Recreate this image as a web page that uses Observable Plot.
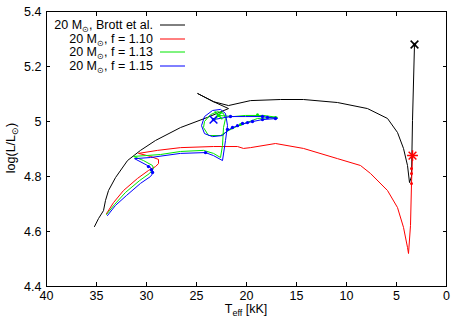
<!DOCTYPE html>
<html><head><meta charset="utf-8">
<script src="https://cdn.jsdelivr.net/npm/d3@7"></script>
<script src="https://cdn.jsdelivr.net/npm/@observablehq/plot@0.6"></script>
<style>body{margin:0;background:#fff} svg{display:block}</style>
</head><body><div id="chart"></div>
<script>
// ---- data (Teff in kK, log L/Lsun) ----
const xTicks = [40, 35, 30, 25, 20, 15, 10, 5, 0];
const yTicks = [4.4, 4.6, 4.8, 5.0, 5.2, 5.4];
const yTickLabels = ["4.4", "4.6", "4.8", "5", "5.2", "5.4"];

const legendMain = ["20 M", "20 M", "20 M", "20 M"];
const legendSuffix = [", Brott et al.", ", f = 1.10", ", f = 1.13", ", f = 1.15"];
const seriesColors = ["#000000", "#ff0000", "#00e600", "#0000ff"];

const brottT = [35.2,34.8,34.3,34.1,33.8,33.1,31.9,30.6,29.1,26.6,23.9,21.8,23.3,24.9,23.3,21.8,19.6,16.6,14.3,10.9,7.9,5.9,4.9,4.3,3.9,3.7,3.5,3.4,3.2];
const brottL = [4.618,4.647,4.676,4.713,4.749,4.796,4.858,4.895,4.931,4.978,5.015,5.047,5.072,5.102,5.072,5.058,5.076,5.080,5.080,5.069,5.047,5.011,4.960,4.902,4.840,4.778,4.800,5.004,5.280];

const f110T = [34.0,33.3,32.3,30.9,29.8,29.1,28.8,28.8,29.6,30.8,28.9,26.6,23.3,20.9,20.3,19.6,17.1,14.3,10.9,8.6,7.6,5.9,4.9,4.3,3.9,3.8,3.6,3.5,3.4];
const f110L = [4.665,4.705,4.749,4.793,4.822,4.836,4.847,4.862,4.873,4.884,4.895,4.905,4.909,4.909,4.902,4.905,4.920,4.902,4.865,4.840,4.811,4.749,4.687,4.615,4.542,4.520,4.622,4.775,4.876];

const f113T = [34.0,33.2,32.1,30.7,29.7,29.3,29.4,30.3,31.3,30.1,28.6,26.6,24.3,23.3,22.6,22.4,22.3,22.1,22.3,22.9,23.6,24.2,24.3,23.8,22.6,21.8,20.8,18.9,16.9,18.3,20.1,21.3,22.8];
const f113L = [4.662,4.698,4.742,4.785,4.811,4.829,4.840,4.858,4.873,4.876,4.880,4.891,4.895,4.884,4.869,4.913,4.978,5.011,5.029,5.036,5.025,5.000,4.978,4.949,4.949,4.967,4.985,5.011,5.015,5.022,5.022,5.018,5.022];

const f115T = [33.9,33.1,32.0,30.6,29.6,29.3,29.6,29.9,31.2,29.6,26.6,24.1,23.3,22.4,22.1,21.9,22.1,22.6,23.4,24.2,24.5,24.2,23.4,22.4,21.9,21.4,19.9,18.4,16.9,18.4,20.1,21.6,23.3];
const f115L = [4.658,4.695,4.731,4.775,4.800,4.815,4.833,4.840,4.865,4.869,4.884,4.887,4.876,4.858,4.931,4.985,5.029,5.044,5.040,5.018,4.985,4.956,4.945,4.949,4.967,4.978,4.996,5.007,5.011,5.018,5.018,5.018,5.007];

// model points marked along the tracks
const blueDotT = [21.9,21.4,20.9,20.4,19.9,19.4,18.4,17.1,21.6,18.4,17.9,24.1,29.8,29.5,29.4];
const blueDotL = [4.971,4.978,4.985,4.993,4.996,5.000,5.007,5.011,5.018,5.018,5.015,4.887,4.836,4.825,4.815];
const greenDotT = [18.9,20.6,17.1];
const greenDotL = [5.025,4.989,5.015];
const redDotT = [3.5,3.5,3.5];
const redDotL = [4.829,4.811,4.775];

// end points (crosses)
const endT = [3.2, 3.4, 22.8, 23.3];
const endL = [5.280, 4.876, 5.022, 5.007];

// ---- build ----
const zipTL = (T, L) => T.map((t, i) => ({T: t, L: L[i]}));
const tracks = [zipTL(brottT, brottL), zipTL(f110T, f110L), zipTL(f113T, f113L), zipTL(f115T, f115L)];
const ends = endT.map((t, i) => ({T: t, L: endL[i], c: seriesColors[i]}));

const yFmt = d => yTickLabels[yTicks.findIndex(v => Math.abs(v - d) < 1e-9)];

const marks = [];
tracks.forEach((tr, i) => marks.push(Plot.line(tr, {x: "T", y: "L", stroke: seriesColors[i], strokeWidth: 1})));
marks.push(Plot.dot(zipTL(redDotT, redDotL), {x: "T", y: "L", r: 1.5, fill: seriesColors[1]}));
marks.push(Plot.dot(zipTL(greenDotT, greenDotL), {x: "T", y: "L", r: 1.5, fill: seriesColors[2]}));
marks.push(Plot.dot(zipTL(blueDotT, blueDotL), {x: "T", y: "L", r: 1.7, fill: seriesColors[3]}));
marks.push(Plot.dot(ends, {x: "T", y: "L", symbol: "times", r: 3.6, stroke: "c", strokeWidth: 1.5}));
marks.push(Plot.dot(ends.slice(1, 2), {x: "T", y: "L", symbol: "plus", r: 3.6, stroke: "c", strokeWidth: 1.5}));
marks.push(Plot.dot(ends, {x: "T", y: "L", symbol: "square", r: 1.8, fill: "c"}));

marks.push(Plot.axisX(xTicks, {anchor: "bottom", tickSize: 0, tickPadding: 5, fontSize: 12.5}));
marks.push(Plot.axisX(xTicks, {anchor: "bottom", tickSize: -4, text: null}));
marks.push(Plot.axisX(xTicks, {anchor: "top", tickSize: -4, text: null}));
marks.push(Plot.axisY(yTicks, {anchor: "left", tickSize: 0, tickPadding: 5, tickFormat: yFmt, fontSize: 12.5}));
marks.push(Plot.axisY(yTicks, {anchor: "left", tickSize: -4, text: null}));
marks.push(Plot.axisY(yTicks, {anchor: "right", tickSize: -4, text: null}));
marks.push(Plot.frame({stroke: "#000", strokeWidth: 1}));

const svg = Plot.plot({
  width: 463, height: 324,
  marginLeft: 46, marginRight: 17, marginTop: 11, marginBottom: 38,
  style: {fontFamily: "'Liberation Sans', Arial, sans-serif", fontSize: "12.5px", color: "#000", background: "#fff"},
  x: {domain: [40, 0], label: null},
  y: {domain: [4.4, 5.4], label: null},
  color: {type: "identity"},
  marks
});
document.getElementById("chart").appendChild(svg);

// ---- titles and legend (text with subscripts) ----
const s = d3.select(svg);
const font = "'Liberation Sans', Arial, sans-serif";
const xt = s.append("text").attr("x", 246).attr("y", 313).attr("text-anchor", "middle")
  .attr("font-family", font).attr("font-size", 12.5).attr("fill", "#000");
xt.append("tspan").text("T");
xt.append("tspan").attr("font-size", 9).attr("dy", 3).text("eff");
xt.append("tspan").attr("dy", -3).text(" [kK]");

const yt = s.append("text").attr("transform", "translate(15,148) rotate(-90)").attr("text-anchor", "middle")
  .attr("font-family", font).attr("font-size", 12.5).attr("fill", "#000");
yt.append("tspan").text("log(L/L");
yt.append("tspan").attr("font-size", 8.5).attr("dy", 2.5).text("\u2299");
yt.append("tspan").attr("dy", -2.5).text(")");

const legY = [25, 39, 52, 66];
legendMain.forEach((m, i) => {
  const t = s.append("text").attr("x", 153).attr("y", legY[i] + 4).attr("text-anchor", "end")
    .attr("font-family", font).attr("font-size", 12.5).attr("fill", "#000");
  t.append("tspan").text(m);
  t.append("tspan").attr("font-size", 8).attr("dy", 2.5).text("\u2299");
  t.append("tspan").attr("dy", -2.5).text(legendSuffix[i]);
  s.append("line").attr("x1", 160).attr("x2", 185).attr("y1", legY[i]).attr("y2", legY[i])
    .attr("stroke", seriesColors[i]).attr("stroke-width", 1);
});
</script>
</body></html>
